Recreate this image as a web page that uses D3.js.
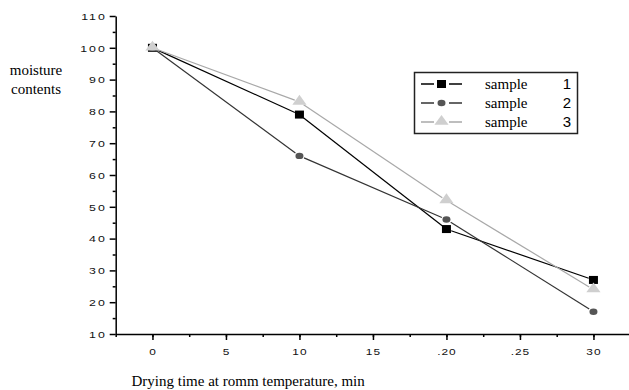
<!DOCTYPE html>
<html>
<head>
<meta charset="utf-8">
<script src="https://cdn.jsdelivr.net/npm/d3@7"></script>
<style>
  body { margin: 0; background: #fff; }
  svg { display: block; }
</style>
</head>
<body>
<script>
'use strict';

// data
const times = [0, 10, 20, 30];
const sample1 = [100, 79, 43, 27];
const sample2 = [100, 66, 46, 17];
const sample3 = [100, 83, 52, 24];
const seriesNames = ["sample", "sample", "sample"];
const seriesNums = ["1", "2", "3"];
const xTickValues = [0, 5, 10, 15, 20, 25, 30];
const xTickLabels = ["0", "5", "10", "15", ".20", ".25", "30"];
const yTickValues = [10, 20, 30, 40, 50, 60, 70, 80, 90, 100, 110];

const width = 629, height = 390;

const svg = d3.select("body").append("svg")
  .attr("width", width)
  .attr("height", height);

const x = d3.scaleLinear().domain([-2.5, 32.5]).range([115.7, 630.2]);
const y = d3.scaleLinear().domain([10, 110]).range([334, 16]);

// minor ticks first, then the labelled major ones
const xMinor = d3.axisBottom(x)
  .tickValues(d3.range(-2.5, 33, 2.5))
  .tickSize(3).tickSizeOuter(0).tickFormat("");
svg.append("g")
  .attr("transform", "translate(0," + y(10) + ")")
  .call(xMinor)
  .call(g => g.selectAll("line,path").attr("stroke", "#000").attr("stroke-width", 1.5));

const xAxis = d3.axisBottom(x)
  .tickValues(xTickValues)
  .tickSize(6).tickSizeOuter(0)
  .tickFormat((d, i) => xTickLabels[i]);
svg.append("g")
  .attr("transform", "translate(0," + y(10) + ")")
  .call(xAxis)
  .call(g => g.select(".domain").remove())
  .call(g => g.selectAll("line").attr("stroke", "#000").attr("stroke-width", 1.5))
  .call(g => g.selectAll("text")
    .attr("y", 0)
    .attr("dy", 0)
    .attr("transform", "translate(0,20.5) scale(1.25,1)")
    .attr("fill", "#111")
    .style("font-family", "Arial, 'Liberation Sans', sans-serif")
    .style("font-size", "9.5px")
    .style("letter-spacing", "0.8px"));

const yMinor = d3.axisLeft(y)
  .tickValues(d3.range(15, 110, 10))
  .tickSize(3).tickSizeOuter(0).tickFormat("");
svg.append("g")
  .attr("transform", "translate(" + x(-2.5) + ",0)")
  .call(yMinor)
  .call(g => g.selectAll("line,path").attr("stroke", "#000").attr("stroke-width", 1.5));

const yAxis = d3.axisLeft(y)
  .tickValues(yTickValues)
  .tickSize(6).tickSizeOuter(0);
svg.append("g")
  .attr("transform", "translate(" + x(-2.5) + ",0)")
  .call(yAxis)
  .call(g => g.select(".domain").remove())
  .call(g => g.selectAll("line").attr("stroke", "#000").attr("stroke-width", 1.5))
  .call(g => g.selectAll("text")
    .attr("x", 0)
    .attr("dy", "0.35em")
    .attr("transform", "translate(-9,0) scale(1.3,1)")
    .attr("fill", "#111")
    .style("font-family", "Arial, 'Liberation Sans', sans-serif")
    .style("font-size", "9.5px")
    .style("letter-spacing", "1.5px"));

// series: lines broken near the markers, Origin style
const series = [
  { vals: sample1, stroke: "#000", fill: "#000", shape: "square" },
  { vals: sample2, stroke: "#333", fill: "#555", shape: "circle" },
  { vals: sample3, stroke: "#a8a8a8", fill: "#cfcfcf", shape: "triangle" }
];

function drawMarker(g, shape, cx, cy, fill) {
  if (shape === "square") {
    g.append("rect").attr("x", cx - 4.5).attr("y", cy - 4)
      .attr("width", 9).attr("height", 8).attr("fill", fill);
  } else if (shape === "circle") {
    g.append("ellipse").attr("cx", cx).attr("cy", cy)
      .attr("rx", 4).attr("ry", 3.2).attr("fill", fill);
  } else {
    g.append("path")
      .attr("d", d3.symbol().type(d3.symbolTriangle).size(56)())
      .attr("transform", "translate(" + cx + "," + (cy - 0.5) + ") scale(1.25,1)")
      .attr("fill", fill);
  }
}

const gap = 5;
series.forEach(s => {
  const g = svg.append("g");
  const pts = times.map((t, i) => [x(t), y(s.vals[i])]);
  for (let i = 0; i < pts.length - 1; i++) {
    const [x0, y0] = pts[i], [x1, y1] = pts[i + 1];
    const len = Math.hypot(x1 - x0, y1 - y0);
    const ux = (x1 - x0) / len, uy = (y1 - y0) / len;
    g.append("line")
      .attr("x1", x0 + ux * gap).attr("y1", y0 + uy * gap)
      .attr("x2", x1 - ux * gap).attr("y2", y1 - uy * gap)
      .attr("stroke", s.stroke).attr("stroke-width", 1.2);
  }
  pts.forEach(p => drawMarker(g, s.shape, p[0], p[1], s.fill));
});

// legend
const legend = svg.append("g");
legend.append("rect")
  .attr("x", 414.5).attr("y", 72.5)
  .attr("width", 163).attr("height", 61)
  .attr("fill", "none").attr("stroke", "#222").attr("stroke-width", 1.5);

const rowY = [84, 103, 122];
series.forEach((s, i) => {
  const ly = rowY[i];
  legend.append("line").attr("x1", 421).attr("x2", 434).attr("y1", ly).attr("y2", ly)
    .attr("stroke", s.stroke).attr("stroke-width", 1.5);
  legend.append("line").attr("x1", 449).attr("x2", 462).attr("y1", ly).attr("y2", ly)
    .attr("stroke", s.stroke).attr("stroke-width", 1.5);
  drawMarker(legend, s.shape, 441.5, ly, s.fill);
  legend.append("text")
    .attr("x", 485).attr("y", ly + 5)
    .style("font-family", "'Liberation Serif', 'Times New Roman', serif")
    .style("font-size", "15px")
    .text(seriesNames[i]);
  legend.append("text")
    .attr("x", 571).attr("y", ly + 5)
    .attr("text-anchor", "end")
    .style("font-family", "Arial, 'Liberation Sans', sans-serif")
    .style("font-size", "15px")
    .text(seriesNums[i]);
});

// axis titles
const yTitle = svg.append("text")
  .attr("text-anchor", "middle")
  .style("font-family", "'Liberation Serif', 'Times New Roman', serif")
  .style("font-size", "15px");
yTitle.append("tspan").attr("x", 36).attr("y", 75).text("moisture");
yTitle.append("tspan").attr("x", 36).attr("y", 94).text("contents");

svg.append("text")
  .attr("x", 131.5).attr("y", 386)
  .style("font-family", "'Liberation Serif', 'Times New Roman', serif")
  .style("font-size", "15px")
  .text("Drying time at romm temperature, min");
</script>
</body>
</html>
